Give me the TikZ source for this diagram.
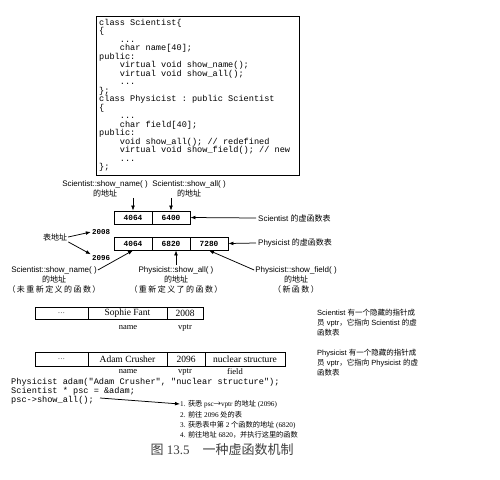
\documentclass[tikz,border=0pt]{standalone}
\usepackage{fontspec}
\setmainfont{Liberation Serif}
\setsansfont{Liberation Sans}
\setmonofont{Liberation Mono}
\newfontfamily\cjk{Noto Sans CJK SC}
\newfontfamily\cjksp[LetterSpace=18]{Noto Sans CJK SC}
\usetikzlibrary{arrows.meta}
\newcommand\zh[1]{{\cjk #1}}
\newcommand\zhs[1]{{\cjksp #1}}
\newcommand\ind{\phantom{xxxx}}
\tikzset{
  arr/.style={-{Latex[length=5pt,width=3.8pt]}, line width=0.75pt},
  codetxt/.style={align=left, inner sep=0, font=\ttfamily\fontsize{8.6}{8.5}\selectfont},
  lab/.style={inner sep=1pt, align=center, font=\sffamily\fontsize{8}{10}\selectfont},
  num/.style={inner sep=1pt, font=\ttfamily\bfseries\fontsize{7.5}{9}\selectfont},
  vcell/.style={draw, line width=0.8pt, minimum width=38pt, minimum height=13pt, inner sep=0, font=\ttfamily\bfseries\fontsize{7.8}{9}\selectfont},
  rcell/.style={draw, line width=0.7pt, inner sep=0, font=\fontsize{9.5}{11}\selectfont},
  rlab/.style={inner sep=1pt, font=\fontsize{8.5}{10}\selectfont},
  note/.style={inner sep=0, align=left, font=\sffamily\fontsize{7.5}{10}\selectfont},
  stepline/.style={inner sep=0, anchor=west, font=\fontsize{7.2}{9}\selectfont},
}
\begin{document}
\begin{tikzpicture}[x=1pt,y=-1pt]
\useasboundingbox[fill=white] (0,0) rectangle (500,479);

% code box
\node[draw, line width=1pt, anchor=north west, minimum width=203pt, minimum height=159pt, inner sep=0] (codebox) at (96,16) {};
\node[codetxt, anchor=north west] (code) at (99,19) {%
class Scientist\{\\
\{\\
\ind...\\
\ind char name[40];\\
public:\\
\ind virtual void show\_name();\\
\ind virtual void show\_all();\\
\ind...\\
\};\\
class Physicist : public Scientist\\
\{\\
\ind...\\
\ind char field[40];\\
public:\\
\ind void show\_all(); // redefined\\
\ind virtual void show\_field(); // new\\
\ind...\\
\};};

% virtual tables
\node[vcell] (s1a) at (133,217.5) {4064};
\node[vcell] (s1b) at (171,217.5) {6400};
\node[vcell] (p1) at (133,243.5) {4064};
\node[vcell] (p2) at (171,243.5) {6820};
\node[vcell] (p3) at (209,243.5) {7280};

\node[lab] (lsn) at (105,188.5) {Scientist::show\_name( )\\\zh{的地址}};
\node[lab] (lsa) at (189,188.5) {Scientist::show\_all( )\\\zh{的地址}};
\draw[arr] (lsn.south -| s1a.north) -- (s1a.north);
\draw[arr] (lsa.south -| s1b.north) -- (s1b.north);

\node[lab, anchor=west, inner sep=2pt] (vs) at (256,218) {Scientist \zh{的虚函数表}};
\node[lab, anchor=west, inner sep=2pt] (vp) at (256,243) {Physicist \zh{的虚函数表}};
\draw[arr] (vs.west) -- (s1b.east);
\draw[arr] (vp.west) -- (p3.east);

\node[lab] (tb) at (55,237) {\zh{表地址}};
\node[num] (a1) at (101,232) {2008};
\node[num] (a2) at (101,258) {2096};
\draw[arr] (tb.east) -- (a1.west);
\draw[arr] (tb.south east) -- (a2.north west);

\node[lab] (lsn2) at (54,270) {Scientist::show\_name( )};
\node[lab, anchor=north] (lsn2b) at (lsn2.south) {\zh{的地址}\\\zhs{（未重新定义的函数）}};
\node[lab] (lpa) at (176,270) {Physicist::show\_all( )};
\node[lab, anchor=north] (lpab) at (lpa.south) {\zh{的地址}\\\zhs{（重新定义了的函数）}};
\node[lab] (lpf) at (296,270) {Physicist::show\_field( )};
\node[lab, anchor=north] (lpfb) at (lpf.south) {\zh{的地址}\\\zhs{（新函数）}};
\draw[arr] (lsn2.east) -- (p1.south);
\draw[arr] (lpa.north) -- (lpa.north |- p2.south);
\draw[arr] (lpf.west) -- (p3.south);

% objects
\node[rcell, minimum width=53pt, minimum height=12pt] (r1a) at (61.5,313) {\color{gray}...};
\node[rcell, minimum width=79pt, minimum height=12pt] (r1b) at (127.5,313) {Sophie Fant};
\node[rcell, minimum width=36pt, minimum height=12pt] (r1c) at (185,313) {2008};
\node[rlab] (l1n) at (128,328) {name};
\node[rlab] (l1v) at (185,328) {vptr};

\node[rcell, minimum width=53pt, minimum height=14pt] (r2a) at (61.5,359) {\color{gray}...};
\node[rcell, minimum width=79pt, minimum height=14pt] (r2b) at (127.5,359) {Adam Crusher};
\node[rcell, minimum width=38pt, minimum height=14pt] (r2c) at (186,359) {2096};
\node[rcell, minimum width=80pt, minimum height=14pt] (r2d) at (245,359) {nuclear structure};
\node[rlab] (l2n) at (128,372) {name};
\node[rlab] (l2v) at (185,372) {vptr};
\node[rlab] (l2f) at (235,372) {field};

% notes
\node[note, anchor=north west] (n1) at (317,309) {Scientist \zh{有一个隐藏的指针成}\\\zh{员} vptr\zh{，它指向} Scientist \zh{的虚}\\\zh{函数表}};
\node[note, anchor=north west] (n2) at (317,349) {Physicist \zh{有一个隐藏的指针成}\\\zh{员} vptr\zh{，它指向} Physicist \zh{的虚}\\\zh{函数表}};

% bottom code
\node[codetxt, anchor=north west, font=\ttfamily\fontsize{8.6}{8}\selectfont] (bc) at (11,378) {%
Physicist adam("Adam Crusher", "nuclear structure");\\
Scientist * psc = \&adam;\\
psc->show\_all();};
\coordinate (callpt) at (100,398);

\node[stepline] (st1) at (180,404) {1. \zh{获悉} psc\zh{→}vptr \zh{的地址} (2096)};
\node[stepline] (st2) at (180,414.5) {2. \zh{前往} 2096 \zh{处的表}};
\node[stepline] (st3) at (180,425) {3. \zh{获悉表中第} 2 \zh{个函数的地址} (6820)};
\node[stepline] (st4) at (180,435) {4. \zh{前往地址} 6820\zh{，并执行这里的函数}};
\draw[arr] (callpt) -- (st1.west);

\node[inner sep=0, text=black!75, font=\fontsize{13}{15}\selectfont] (cap) at (222,450) {\zh{图} 13.5\quad\zh{一种虚函数机制}};
\end{tikzpicture}
\end{document}
